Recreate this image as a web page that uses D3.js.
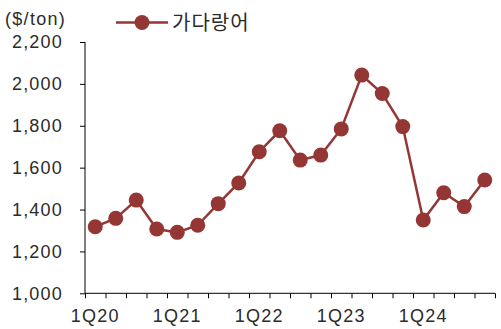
<!DOCTYPE html>
<html>
<head>
<meta charset="utf-8">
<script src="https://cdn.jsdelivr.net/npm/d3@7"></script>
<style>
  body { margin: 0; background: #fff; }
  text { font-family: "Liberation Sans", Arial, sans-serif; fill: #2b2b2b; }
  .kr { font-family: "Noto Sans CJK KR", sans-serif; }
</style>
</head>
<body>
<svg width="501" height="329"></svg>
<script>
const quarters = ["1Q20","2Q20","3Q20","4Q20","1Q21","2Q21","3Q21","4Q21",
                  "1Q22","2Q22","3Q22","4Q22","1Q23","2Q23","3Q23","4Q23",
                  "1Q24","2Q24","3Q24","4Q24"];
const prices = [1318, 1358, 1445, 1307, 1291, 1325, 1428, 1527,
                1676, 1776, 1636, 1660, 1785, 2042, 1954, 1796,
                1350, 1480, 1414, 1541];
const yTicks = [1000, 1200, 1400, 1600, 1800, 2000, 2200];
const seriesName = "가다랑어";
const unitLabel = "($/ton)";

const color = "#943634";
const svg = d3.select("svg");

const plotL = 85, plotR = 495, plotT = 42, plotB = 293.3;

const x = d3.scaleBand().domain(quarters).range([plotL, plotR]);
const xEdge = d3.scaleLinear().domain([0, quarters.length]).range([plotL, plotR]);
const y = d3.scaleLinear().domain([1000, 2200]).range([plotB, plotT]);

// y axis
const yAxis = svg.append("g")
    .attr("transform", "translate(" + plotL + ",0)")
    .call(d3.axisLeft(y).tickValues(yTicks).tickSize(5).tickPadding(17)
        .tickFormat(d3.format(",")));
yAxis.select(".domain").attr("d", "M0," + plotT + "V" + plotB);
yAxis.selectAll("text").style("font-size", "18px").style("letter-spacing", "1.2px")
    .attr("font-family", null);

// x axis tick marks at band edges
const xTicks = svg.append("g")
    .attr("transform", "translate(0," + plotB + ")")
    .call(d3.axisBottom(xEdge).tickValues(d3.range(quarters.length + 1)).tickSize(5).tickFormat(""));
xTicks.select(".domain").attr("d", "M" + plotL + ",0H" + plotR);

// x labels every 4 quarters
const xLabels = svg.append("g")
    .attr("transform", "translate(0," + plotB + ")")
    .call(d3.axisBottom(x).tickValues(quarters.filter(q => q.startsWith("1Q"))).tickSize(0).tickPadding(16));
xLabels.select(".domain").remove();
xLabels.selectAll("text").style("font-size", "18px").style("letter-spacing", "1.2px")
    .attr("font-family", null);

svg.selectAll(".tick line, .domain").attr("stroke", "#000");

// line + markers
const line = d3.line()
    .x((d, i) => x(quarters[i]) + x.bandwidth() / 2)
    .y(d => y(d));

svg.append("path")
    .datum(prices)
    .attr("fill", "none")
    .attr("stroke", color)
    .attr("stroke-width", 2.5)
    .attr("d", line);

svg.selectAll("circle.pt")
    .data(prices)
    .join("circle")
    .attr("class", "pt")
    .attr("cx", (d, i) => x(quarters[i]) + x.bandwidth() / 2)
    .attr("cy", d => y(d))
    .attr("r", 7.5)
    .attr("fill", color);

// unit label
svg.append("text")
    .attr("x", 5).attr("y", 25)
    .style("font-size", "18px")
    .style("letter-spacing", "1.3px")
    .text(unitLabel);

// legend
const lg = svg.append("g");
lg.append("line").attr("x1", 116).attr("x2", 168).attr("y1", 22.5).attr("y2", 22.5)
    .attr("stroke", color).attr("stroke-width", 2.5);
lg.append("circle").attr("cx", 142).attr("cy", 22.5).attr("r", 7.5).attr("fill", color);
lg.append("text").attr("class", "kr")
    .attr("x", 172).attr("y", 30)
    .style("font-size", "20px")
    .style("letter-spacing", "1px")
    .text(seriesName);
</script>
</body>
</html>
